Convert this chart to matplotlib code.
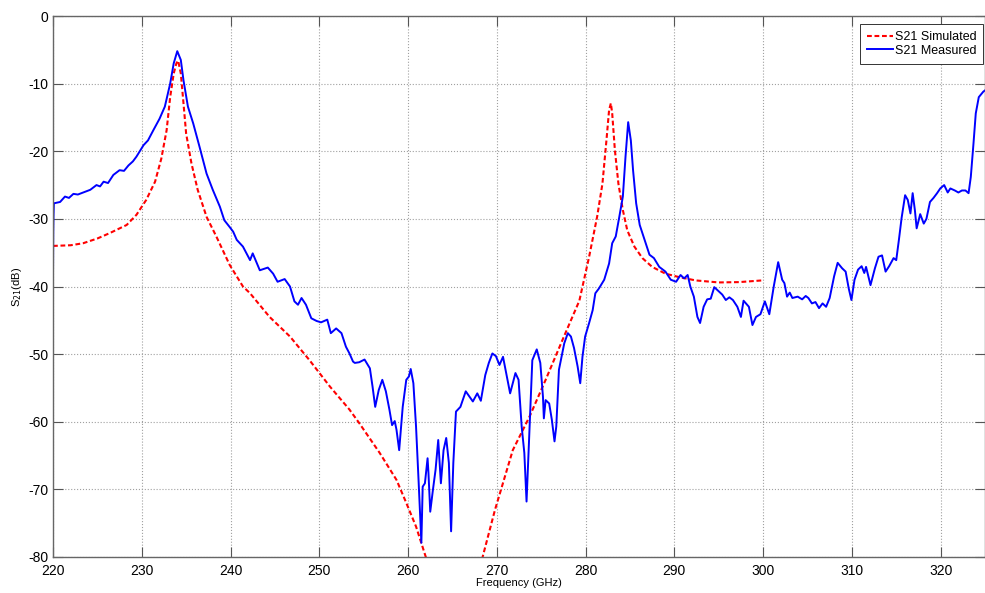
import numpy as np
import matplotlib
matplotlib.use("Agg")
import matplotlib.pyplot as plt

# ---- data ----
sim_freq = [220.0, 222.0, 223.4, 225.0, 226.4, 228.3, 229.4, 230.5, 231.5, 232.2,
            232.8, 233.2, 233.6, 233.9, 234.1, 234.4, 234.7, 235.0, 235.6, 236.3,
            237.3, 238.4, 239.9, 241.4, 242.2, 244.4, 246.7, 248.9, 251.2, 253.4,
            254.5, 256.8, 258.7, 259.8, 260.9, 262.0, 262.6,
            265.2,
            267.9, 268.4, 269.2, 269.8, 271.8, 273.7, 275.5, 277.4, 279.3, 280.4,
            281.3, 281.9, 282.35, 282.65, 282.85, 283.0, 283.3, 283.7, 284.2, 284.7,
            285.5, 286.4, 287.5, 289.0, 290.5, 292.4, 295.0, 297.3, 299.9]
sim_db = [-34.0, -33.9, -33.6, -32.9, -32.1, -30.9, -29.4, -27.2, -24.5, -21.1,
          -16.9, -12.0, -8.5, -7.0, -6.6, -8.5, -12.9, -17.4, -21.8, -25.7,
          -29.7, -32.6, -36.8, -40.0, -41.0, -44.5, -47.4, -50.9, -54.8, -58.2,
          -60.2, -64.6, -68.6, -72.0, -75.5, -80.0, -82.5,
          np.nan,
          -82.5, -80.0, -76.0, -73.0, -64.2, -59.2, -53.8, -47.9, -42.1, -35.6,
          -29.7, -24.8, -18.4, -13.9, -12.9, -14.4, -19.8, -24.8, -28.7, -31.7,
          -34.1, -35.8, -37.1, -38.1, -38.6, -39.1, -39.4, -39.35, -39.1]

meas_freq = [220.0, 220.03, 220.06, 220.1, 220.8, 221.35, 221.8, 222.3, 222.8, 223.4,
             224.2, 224.9, 225.3, 225.7, 226.2, 226.8, 227.5, 228.0, 228.5, 229.0,
             229.4, 230.2, 230.7, 231.3, 232.0, 232.6, 233.2, 233.6, 234.0, 234.4,
             234.7, 235.2, 235.8, 236.5, 237.3, 238.0, 238.8, 239.3, 239.9, 240.3,
             240.7, 241.4, 242.2, 242.5, 243.3, 244.2, 244.8, 245.3, 246.1, 246.7,
             247.2, 247.6, 248.0, 248.5, 249.1, 249.7, 250.2, 250.9, 251.3, 251.9,
             252.5, 253.0, 253.4, 253.8, 254.0, 254.5, 255.1, 255.7, 256.0, 256.3,
             256.7, 257.1, 257.5, 257.9, 258.2, 258.5, 258.7, 259.0, 259.4, 259.8,
             260.1, 260.3, 260.6, 260.9, 261.2, 261.5, 261.65, 261.9, 262.2, 262.3,
             262.5, 262.8, 263.1, 263.4, 263.7, 264.0, 264.3, 264.6, 264.85, 265.1,
             265.4, 265.9, 266.5, 267.3, 267.8, 268.2, 268.7, 269.1, 269.5, 269.9,
             270.3, 270.7, 271.2, 271.5, 272.1, 272.45, 272.8, 273.1, 273.35, 273.7,
             274.0, 274.5, 274.9, 275.2, 275.3, 275.5, 275.9, 276.2, 276.5, 276.7,
             277.0, 277.6, 278.0, 278.35, 278.7, 279.1, 279.4, 279.65, 279.95, 280.4,
             280.8, 281.1, 281.5, 282.1, 282.65, 283.0, 283.4, 283.8, 284.2, 284.5,
             284.8, 285.1, 285.35, 285.7, 286.1, 286.6, 287.2, 287.7, 288.3, 289.0,
             289.6, 290.2, 290.7, 291.1, 291.5, 291.8, 292.2, 292.6, 292.9, 293.3,
             293.7, 294.1, 294.5, 295.0, 295.4, 295.8, 296.2, 296.6, 297.1, 297.5,
             297.8, 298.4, 298.8, 299.2, 299.7, 300.2, 300.7, 301.2, 301.7, 302.15,
             302.4, 302.7, 303.0, 303.3, 303.9, 304.4, 304.8, 305.1, 305.5, 305.9,
             306.3, 306.7, 307.1, 307.5, 308.0, 308.4, 308.9, 309.3, 309.65, 309.95,
             310.3, 310.7, 311.1, 311.4, 311.6, 311.9, 312.1, 312.6, 313.0, 313.4,
             313.8, 314.2, 314.7, 315.0, 315.3, 315.6, 316.0, 316.3, 316.6, 316.85,
             317.1, 317.3, 317.7, 318.1, 318.4, 318.8, 319.2, 319.6, 319.96, 320.4,
             320.8, 321.1, 321.6, 322.0, 322.4, 322.8, 323.15, 323.4, 323.7, 323.96,
             324.3, 324.8, 325.0]
meas_db = [-38.5, -32.0, -29.5, -27.7, -27.5, -26.7, -26.9, -26.3, -26.4, -26.1,
           -25.7, -25.0, -25.2, -24.5, -24.7, -23.5, -22.8, -22.9, -22.1, -21.5,
           -20.8, -19.1, -18.4, -16.9, -15.2, -13.4, -10.0, -7.0, -5.2, -6.5,
           -9.5, -13.4, -15.9, -19.3, -23.3, -25.7, -28.2, -30.2, -31.2, -31.9,
           -33.1, -34.1, -36.1, -35.1, -37.6, -37.2, -38.1, -39.3, -38.9, -40.0,
           -42.2, -42.7, -41.7, -42.7, -44.7, -45.1, -45.3, -44.9, -46.9, -46.2,
           -46.9, -48.9, -49.9, -51.1, -51.3, -51.2, -50.8, -52.1, -54.8, -57.8,
           -55.3, -53.8, -55.5, -58.2, -60.5, -59.9, -61.2, -64.2, -57.8, -53.8,
           -53.3, -52.2, -54.3, -60.7, -69.1, -77.9, -69.6, -69.1, -65.4, -67.6,
           -73.3, -70.1, -67.1, -62.7, -69.1, -64.2, -62.4, -66.1, -76.2, -66.1,
           -58.5, -57.8, -55.5, -57.0, -55.8, -56.9, -53.1, -51.3, -49.9, -50.3,
           -51.6, -50.4, -53.8, -55.8, -52.8, -53.8, -60.7, -64.6, -71.8, -60.7,
           -50.9, -49.3, -51.3, -56.3, -59.5, -56.8, -57.3, -59.7, -62.9, -60.7,
           -52.3, -48.4, -46.9, -47.4, -49.1, -51.8, -54.3, -50.4, -47.4, -45.4,
           -43.5, -41.0, -40.3, -39.0, -36.6, -33.6, -32.6, -29.7, -26.7, -20.8,
           -15.7, -18.4, -22.8, -27.7, -30.9, -32.9, -35.3, -35.8, -37.1, -37.8,
           -39.0, -39.3, -38.3, -38.8, -38.3, -40.0, -41.5, -44.5, -45.4, -43.0,
           -41.9, -41.8, -40.1, -40.7, -41.2, -42.0, -41.6, -42.0, -43.0, -44.5,
           -42.1, -43.0, -45.7, -44.5, -44.1, -42.2, -44.1, -40.0, -36.4, -39.0,
           -39.5, -41.5, -40.9, -41.7, -41.5, -41.9, -41.4, -41.7, -42.5, -42.3,
           -43.2, -42.5, -43.0, -41.7, -38.5, -36.5, -37.3, -37.8, -40.3, -42.0,
           -39.0, -37.5, -37.0, -38.0, -37.1, -38.7, -39.8, -37.3, -35.6, -35.4,
           -37.8, -37.0, -35.8, -36.1, -33.1, -29.9, -26.5, -27.2, -29.2, -26.2,
           -28.7, -31.4, -29.3, -30.7, -30.0, -27.5, -26.9, -26.2, -25.5, -25.0,
           -26.1, -25.5, -25.8, -26.1, -25.8, -25.8, -26.2, -23.8, -18.9, -14.4,
           -12.0, -11.2, -11.0]

x_ticks = [220, 230, 240, 250, 260, 270, 280, 290, 300, 310, 320]
y_ticks = [0, -10, -20, -30, -40, -50, -60, -70, -80]

plt.rcParams['font.family'] = ['Liberation Sans', 'DejaVu Sans']
plt.rcParams['axes.unicode_minus'] = False

fig = plt.figure(figsize=(9.85, 5.93), dpi=100)
ax = fig.add_axes([53 / 985, 36 / 593, 932 / 985, 541 / 593])

ax.plot(sim_freq, sim_db, color='red', lw=1.5, linestyle=(0, (2.3, 1.3)),
        label='S21 Simulated')
ax.plot(meas_freq, meas_db, color='blue', lw=1.4, label='S21 Measured')

ax.set_xlim(220, 325)
ax.set_ylim(-80, 0)
ax.set_xticks(x_ticks)
ax.set_yticks(y_ticks)
ax.grid(True, linestyle=':', color='#a0a0a0', lw=0.8)
ax.tick_params(direction='in', top=True, right=True, length=7, width=0.8,
               color='#555555', labelsize=10)
ax.tick_params(axis='x', pad=5)
ax.tick_params(axis='y', pad=3.5)
for s in ax.spines.values():
    s.set_color('#666666')
    s.set_linewidth(1.0)

ax.set_xlabel('Frequency (GHz)', fontsize=8, labelpad=0)
ax.set_ylabel('S$_{21}$(dB)', fontsize=8, labelpad=3)

leg = ax.legend(loc='upper right', bbox_to_anchor=(0.998, 0.985), borderaxespad=0,
                fontsize=9, fancybox=False, framealpha=1, edgecolor='#333333',
                handlelength=2.1, handletextpad=0.1, borderpad=0.55, labelspacing=0.15)
leg.get_frame().set_linewidth(0.7)

fig.savefig('out.png', dpi=100)
